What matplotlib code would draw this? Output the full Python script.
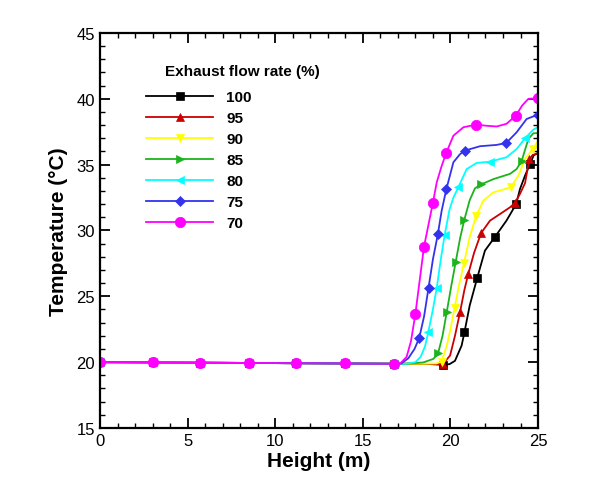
import matplotlib
matplotlib.use("Agg")
import matplotlib.pyplot as plt
from matplotlib.ticker import MultipleLocator

plt.rcParams["font.family"] = ["Liberation Sans", "DejaVu Sans"]

# shared flat part (all flow rates sit at ~20 C up to ~17 m)
flat_x = [0.0, 3.0, 5.7, 8.5, 11.2, 14.0, 16.8]
flat_y = [20.0, 19.98, 19.96, 19.94, 19.92, 19.9, 19.88]

# rising part per exhaust flow rate, marker points listed in mk_*
x_100 = [18.5, 19.3, 19.55, 19.95, 20.26, 20.64, 20.8, 21.1, 21.53, 21.97, 22.55, 23.2, 23.75, 23.97, 24.26, 24.54, 24.75, 25.0]
y_100 = [19.88, 19.82, 19.8, 19.85, 20.1, 21.26, 22.27, 24.3, 26.4, 28.47, 29.53, 30.75, 32.0, 33.15, 34.17, 35.05, 35.7, 35.9]
mk_100 = [19.55, 20.8, 21.53, 22.55, 23.75, 24.54]

x_95 = [18.5, 19.3, 19.56, 19.98, 20.26, 20.55, 20.8, 21.02, 21.35, 21.75, 22.26, 22.83, 23.4, 23.69, 23.97, 24.26, 24.5, 24.7, 25.0]
y_95 = [19.88, 19.85, 19.85, 20.5, 22.0, 23.8, 25.5, 26.7, 28.3, 29.8, 30.75, 31.25, 31.76, 32.1, 32.78, 33.6, 35.4, 35.75, 35.85]
mk_95 = [19.56, 20.55, 21.02, 21.75, 23.69, 24.5]

x_90 = [18.5, 19.2, 19.5, 19.8, 20.0, 20.24, 20.5, 20.77, 21.1, 21.46, 21.88, 22.45, 23.0, 23.46, 23.88, 24.26, 24.7, 25.0]
y_90 = [19.88, 19.9, 20.05, 21.3, 22.5, 24.15, 25.9, 27.5, 29.5, 31.08, 32.27, 32.9, 33.1, 33.3, 34.17, 35.43, 36.2, 36.8]
mk_90 = [19.5, 20.24, 20.77, 21.46, 23.46, 24.7]

x_85 = [17.5, 18.45, 19.03, 19.3, 19.55, 19.79, 20.05, 20.3, 20.55, 20.79, 21.1, 21.4, 21.75, 22.45, 23.4, 23.78, 24.07, 24.45, 24.73, 25.0]
y_85 = [19.88, 19.98, 20.25, 20.7, 22.0, 23.8, 25.8, 27.6, 29.4, 30.8, 32.3, 33.2, 33.5, 33.9, 34.3, 34.67, 35.3, 36.95, 37.38, 37.4]
mk_85 = [19.3, 19.79, 20.3, 20.79, 21.75, 24.07]

x_80 = [17.5, 18.0, 18.3, 18.55, 18.74, 19.0, 19.22, 19.45, 19.67, 19.95, 20.17, 20.45, 20.93, 21.5, 22.26, 23.2, 23.78, 24.26, 24.73, 25.0]
y_80 = [19.88, 20.0, 20.4, 21.2, 22.3, 24.0, 25.64, 27.8, 29.65, 31.6, 32.5, 33.28, 34.67, 35.13, 35.23, 35.56, 36.19, 37.0, 37.66, 37.85]
mk_80 = [18.74, 19.22, 19.67, 20.45, 22.26, 24.26]

x_75 = [17.2, 17.6, 17.95, 18.22, 18.5, 18.75, 19.0, 19.28, 19.5, 19.77, 20.17, 20.55, 20.81, 21.69, 22.64, 23.19, 23.78, 24.35, 25.0]
y_75 = [19.9, 20.3, 21.0, 21.84, 23.5, 25.64, 27.8, 29.7, 31.5, 33.15, 35.18, 35.8, 36.06, 36.4, 36.5, 36.65, 37.46, 38.47, 38.8]
mk_75 = [18.22, 18.75, 19.28, 19.77, 20.81, 23.19, 25.0]

x_70 = [17.12, 17.5, 17.75, 18.0, 18.49, 19.0, 19.22, 19.5, 19.77, 20.17, 20.74, 21.45, 22.1, 22.64, 23.2, 23.73, 24.1, 24.45, 25.0]
y_70 = [19.88, 20.4, 21.6, 23.66, 28.75, 32.1, 33.66, 34.9, 35.92, 37.2, 37.84, 38.04, 37.95, 37.9, 38.1, 38.72, 39.5, 40.0, 40.05]
mk_70 = [18.0, 18.49, 19.0, 19.77, 21.45, 23.73, 25.0]

labels = ["100", "95", "90", "85", "80", "75", "70"]
colors = ["black", "#cc0000", "#ffff00", "#1db31d", "#00ffff", "#3333ee", "#ff00ff"]
markers = ["s", "^", "v", ">", "<", "D", "o"]
msizes = [5.5, 6, 6, 6, 6, 5, 7.5]

series = [(x_100, y_100, mk_100), (x_95, y_95, mk_95), (x_90, y_90, mk_90),
          (x_85, y_85, mk_85), (x_80, y_80, mk_80), (x_75, y_75, mk_75),
          (x_70, y_70, mk_70)]

fig = plt.figure(figsize=(5.9, 4.89), dpi=100)
ax = fig.add_axes([0.1695, 0.1227, 0.7424, 0.8078])

for (xs, ys, mk), lab, c, m, ms in zip(series, labels, colors, markers, msizes):
    x = flat_x + xs
    y = flat_y + ys
    idx = [i for i, v in enumerate(x) if i < len(flat_x) or v in mk]
    ax.plot(x, y, color=c, lw=1.3, marker=m, markersize=ms, markevery=idx,
            markeredgewidth=0.5, markeredgecolor=c, label=lab)

ax.set_xlim(0, 25)
ax.set_ylim(15, 45)
ax.xaxis.set_major_locator(MultipleLocator(5))
ax.xaxis.set_minor_locator(MultipleLocator(1))
ax.yaxis.set_major_locator(MultipleLocator(5))
ax.yaxis.set_minor_locator(MultipleLocator(1))
ax.tick_params(which="both", direction="in", top=True, right=True, labelsize=12)
ax.tick_params(which="major", length=7, width=1.3)
ax.tick_params(which="minor", length=3.5, width=1.0)
for s in ax.spines.values():
    s.set_linewidth(1.6)

ax.set_xlabel("Height (m)", fontsize=15, fontweight="bold", labelpad=2)
ax.set_ylabel("Temperature (°C)", fontsize=15, fontweight="bold", labelpad=6)

ax.text(0.148, 0.904, "Exhaust flow rate (%)", transform=ax.transAxes,
        fontsize=11, fontweight="bold", va="center", ha="left")
ax.legend(loc="upper left", bbox_to_anchor=(0.105, 0.855), frameon=False,
          borderpad=0, borderaxespad=0, handlelength=4.4, handletextpad=0.85,
          labelspacing=0.46, numpoints=1, prop={"weight": "bold", "size": 11})

fig.savefig("out.png", dpi=100)
